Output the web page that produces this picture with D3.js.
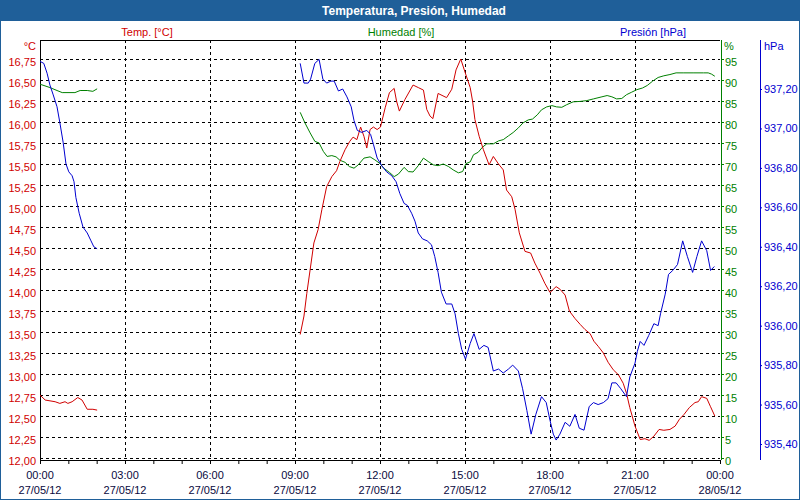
<!DOCTYPE html>
<html>
<head>
    <script src="https://d3js.org/d3.v7.min.js"></script>
    <style>
        body {
            margin: 0;
            background-color: white;
        }

        text {
            font-family: "Liberation Sans", Arial, sans-serif;
            font-size: 11px;
        }

        .grid line {
            stroke: #000;
            stroke-dasharray: 3,3;
            shape-rendering: crispEdges;
        }

        .series {
            fill: none;
            stroke-width: 1;
        }
    </style>
</head>
<body>
    <script>
        // readings of 27/05/12, [time, value]; null marks the gap in the log
        const tempData = [
            ['00:00', 12.75], ['00:11', 12.69], ['00:32', 12.67], ['00:42', 12.65], ['00:53', 12.67],
            ['00:59', 12.65], ['01:08', 12.67], ['01:20', 12.72], ['01:29', 12.69], ['01:40', 12.58],
            ['01:52', 12.58], ['02:01', 12.57], ['05:00', null],
            ['09:11', 13.47], ['09:19', 13.69], ['09:25', 13.96], ['09:32', 14.24], ['09:40', 14.56],
            ['09:49', 14.72], ['09:57', 14.96], ['10:07', 15.23], ['10:18', 15.35], ['10:28', 15.42],
            ['10:35', 15.53], ['10:46', 15.67], ['10:56', 15.77], ['11:03', 15.82], ['11:11', 15.79],
            ['11:19', 15.94], ['11:26', 15.83], ['11:32', 15.69], ['11:39', 15.91], ['11:46', 15.94],
            ['11:54', 15.91], ['12:01', 15.94], ['12:11', 16.17], ['12:20', 16.35], ['12:30', 16.40],
            ['12:35', 16.25], ['12:41', 16.13], ['12:53', 16.27], ['13:10', 16.44], ['13:21', 16.41],
            ['13:32', 16.38], ['13:39', 16.15], ['13:46', 16.07], ['13:52', 16.04], ['14:03', 16.34],
            ['14:21', 16.29], ['14:32', 16.39], ['14:41', 16.62], ['14:51', 16.75], ['15:02', 16.56],
            ['15:11', 16.41], ['15:16', 16.25], ['15:21', 16.03], ['15:30', 15.83], ['15:39', 15.67],
            ['15:51', 15.49], ['16:00', 15.59], ['16:11', 15.50], ['16:21', 15.43], ['16:28', 15.19],
            ['16:39', 15.11], ['16:46', 14.96], ['16:55', 14.68], ['17:07', 14.46], ['17:19', 14.44],
            ['17:28', 14.32], ['17:39', 14.20], ['17:49', 14.08], ['18:00', 13.97], ['18:13', 14.04],
            ['18:21', 14.01], ['18:32', 13.94], ['18:41', 13.75], ['18:53', 13.66], ['19:04', 13.59],
            ['19:14', 13.53], ['19:25', 13.48], ['19:33', 13.39], ['19:42', 13.33], ['19:53', 13.25],
            ['20:03', 13.14], ['20:14', 13.05], ['20:25', 12.99], ['20:35', 12.89], ['20:42', 12.77],
            ['20:49', 12.60], ['21:00', 12.38], ['21:11', 12.22], ['21:21', 12.23], ['21:30', 12.21],
            ['21:40', 12.26], ['21:51', 12.34], ['22:01', 12.33], ['22:14', 12.34], ['22:25', 12.38],
            ['22:34', 12.46], ['22:44', 12.52], ['22:55', 12.60], ['23:07', 12.66], ['23:14', 12.67],
            ['23:21', 12.73], ['23:32', 12.71], ['23:40', 12.61], ['23:49', 12.50]
        ];

        const humData = [
            ['00:00', 89.0], ['00:21', 88.2], ['00:36', 87.5], ['00:47', 87.0], ['01:14', 87.0],
            ['01:25', 87.5], ['01:40', 87.5], ['01:52', 87.3], ['02:01', 87.9], ['05:00', null],
            ['09:11', 82.3], ['09:21', 79.8], ['09:32', 77.4], ['09:42', 75.4], ['09:51', 75.0],
            ['10:00', 73.0], ['10:08', 71.8], ['10:18', 72.0], ['10:27', 71.7], ['10:35', 70.9],
            ['10:46', 70.4], ['10:55', 69.4], ['11:05', 69.0], ['11:14', 69.8], ['11:26', 71.4],
            ['11:39', 71.7], ['11:49', 71.0], ['12:00', 70.1], ['12:08', 69.0], ['12:20', 68.0],
            ['12:30', 67.0], ['12:39', 67.6], ['12:51', 69.2], ['13:00', 68.2], ['13:10', 68.1],
            ['13:21', 69.6], ['13:32', 71.4], ['13:42', 70.6], ['13:53', 69.8], ['14:03', 69.6],
            ['14:14', 70.0], ['14:25', 69.4], ['14:35', 68.6], ['14:46', 67.9], ['14:55', 68.2],
            ['15:02', 70.1], ['15:11', 70.5], ['15:18', 72.2], ['15:28', 72.8], ['15:37', 74.0],
            ['15:46', 74.8], ['16:00', 74.8], ['16:11', 75.5], ['16:21', 75.8], ['16:32', 76.7],
            ['16:42', 77.5], ['16:53', 78.6], ['17:03', 79.8], ['17:14', 80.5], ['17:23', 80.7],
            ['17:33', 81.7], ['17:42', 82.9], ['17:53', 83.6], ['18:04', 83.9], ['18:14', 83.6],
            ['18:25', 83.5], ['18:35', 84.1], ['18:49', 84.8], ['19:04', 84.9], ['19:18', 85.1],
            ['19:32', 85.5], ['19:50', 86.0], ['20:01', 86.3], ['20:11', 86.0], ['20:21', 85.5],
            ['20:32', 85.6], ['20:42', 86.5], ['20:53', 87.1], ['21:04', 87.7], ['21:16', 88.1],
            ['21:26', 88.7], ['21:37', 89.7], ['21:49', 90.6], ['22:01', 91.0], ['22:14', 91.3],
            ['22:27', 91.7], ['22:42', 91.7], ['23:03', 91.7], ['23:25', 91.7], ['23:35', 91.7],
            ['23:42', 91.4], ['23:49', 90.9]
        ];

        const presData = [
            ['00:00', 937.34], ['00:08', 937.33], ['00:15', 937.28], ['00:21', 937.22], ['00:28', 937.17],
            ['00:36', 937.11], ['00:42', 937.03], ['00:49', 936.93], ['00:55', 936.82], ['01:01', 936.78],
            ['01:08', 936.76], ['01:12', 936.73], ['01:16', 936.65], ['01:23', 936.57], ['01:31', 936.50],
            ['01:40', 936.47], ['01:48', 936.43], ['01:54', 936.40], ['02:01', 936.39], ['05:00', null],
            ['09:11', 937.33], ['09:19', 937.23], ['09:28', 937.23], ['09:33', 937.25], ['09:42', 937.33],
            ['09:51', 937.35], ['09:59', 937.25], ['10:07', 937.23], ['10:16', 937.24], ['10:23', 937.24],
            ['10:32', 937.19], ['10:41', 937.20], ['10:50', 937.16], ['10:59', 937.11], ['11:05', 937.04],
            ['11:12', 936.99], ['11:21', 936.98], ['11:32', 936.99], ['11:40', 936.97], ['11:46', 936.92],
            ['11:54', 936.85], ['12:04', 936.81], ['12:14', 936.78], ['12:25', 936.76], ['12:34', 936.73],
            ['12:42', 936.67], ['12:51', 936.62], ['12:58', 936.61], ['13:07', 936.57], ['13:14', 936.53],
            ['13:21', 936.47], ['13:30', 936.44], ['13:40', 936.43], ['13:49', 936.41], ['13:56', 936.35],
            ['14:03', 936.27], ['14:10', 936.17], ['14:20', 936.11], ['14:32', 936.11], ['14:39', 936.06],
            ['14:46', 935.96], ['14:53', 935.88], ['15:01', 935.83], ['15:11', 935.91], ['15:19', 935.96],
            ['15:30', 935.88], ['15:40', 935.90], ['15:49', 935.89], ['16:00', 935.77], ['16:11', 935.78],
            ['16:21', 935.76], ['16:32', 935.78], ['16:41', 935.80], ['16:53', 935.77], ['17:02', 935.68],
            ['17:11', 935.57], ['17:20', 935.45], ['17:30', 935.55], ['17:42', 935.64], ['17:52', 935.61],
            ['18:00', 935.52], ['18:07', 935.45], ['18:13', 935.42], ['18:21', 935.45], ['18:32', 935.51],
            ['18:42', 935.49], ['18:53', 935.55], ['19:02', 935.48], ['19:12', 935.47], ['19:23', 935.59],
            ['19:32', 935.61], ['19:42', 935.60], ['19:53', 935.61], ['20:03', 935.63], ['20:11', 935.71],
            ['20:20', 935.71], ['20:30', 935.68], ['20:42', 935.64], ['20:49', 935.74], ['21:00', 935.81],
            ['21:05', 935.87], ['21:11', 935.92], ['21:19', 935.90], ['21:29', 935.95], ['21:40', 936.01],
            ['21:49', 936.00], ['21:54', 936.06], ['22:04', 936.16], ['22:11', 936.26], ['22:20', 936.28],
            ['22:30', 936.31], ['22:41', 936.43], ['22:51', 936.35], ['23:02', 936.27], ['23:11', 936.35],
            ['23:21', 936.43], ['23:32', 936.38], ['23:40', 936.28], ['23:48', 936.30]
        ];

        const tempTicks = d3.range(0, 20).map(i => 12 + i * 0.25);
        const humTicks = d3.range(0, 20).map(i => i * 5);
        const presTicks = [935.4, 935.6, 935.8, 936.0, 936.2, 936.4, 936.6, 936.8, 937.0, 937.2];

        const titleText = 'Temperatura, Presión, Humedad';
        const dayStart = '27/05/12 00:00', dayEnd = '28/05/12 00:00';

        const colTemp = '#d00000', colHum = '#008000', colPres = '#0000d0';
        const colBar = '#1f5f99';

        const width = 800, height = 500;
        const pLeft = 40, pRight = 720, pTop = 40, pBottom = 460;

        const parseFull = d3.timeParse('%d/%m/%y %H:%M');
        const at = t => parseFull('27/05/12 ' + t);
        const comma = f => d => d3.format(f)(d).replace('.', ',');

        const x = d3.scaleTime()
            .domain([parseFull(dayStart), parseFull(dayEnd)])
            .range([pLeft, pRight]);
        const yT = d3.scaleLinear().domain([12, 17]).range([458, 38]);
        const yH = d3.scaleLinear().domain([0, 100]).range([458, 38]);
        const yP = d3.scaleLinear().domain([935.4, 937.2]).range([444, 89]);

        const svg = d3.select('body').append('svg')
            .attr('width', width)
            .attr('height', height);

        svg.append('rect')
            .attr('x', 0.5).attr('y', 0.5)
            .attr('width', width - 1).attr('height', height - 1)
            .attr('fill', 'white')
            .attr('stroke', colBar);

        // title bar
        svg.append('rect')
            .attr('x', 0).attr('y', 0)
            .attr('width', width).attr('height', 21)
            .attr('fill', colBar);
        svg.append('text')
            .attr('x', 414).attr('y', 15)
            .attr('text-anchor', 'middle')
            .attr('fill', 'white')
            .style('font-weight', 'bold')
            .style('font-size', '12px')
            .text(titleText);

        // series names
        const names = [
            { t: 'Temp. [°C]', x: 147, c: colTemp },
            { t: 'Humedad [%]', x: 401, c: colHum },
            { t: 'Presión [hPa]', x: 653, c: colPres }
        ];
        svg.selectAll('.name')
            .data(names)
            .enter().append('text')
            .attr('class', 'name')
            .attr('x', d => d.x).attr('y', 36)
            .attr('text-anchor', 'middle')
            .attr('fill', d => d.c)
            .text(d => d.t);

        // grid
        const grid = svg.append('g').attr('class', 'grid');
        grid.selectAll('.hg')
            .data(tempTicks)
            .enter().append('line')
            .attr('x1', pLeft).attr('x2', pRight)
            .attr('y1', d => yT(d)).attr('y2', d => yT(d));
        grid.selectAll('.vg')
            .data(x.ticks(d3.timeHour.every(3)).slice(1, -1))
            .enter().append('line')
            .attr('x1', d => x(d)).attr('x2', d => x(d))
            .attr('y1', pTop).attr('y2', pBottom);

        // frame
        svg.append('path')
            .attr('d', `M${pRight},${pTop}H${pLeft}V${pBottom}H${pRight}`)
            .attr('fill', 'none')
            .attr('stroke', '#000')
            .attr('shape-rendering', 'crispEdges');

        // left axis (temperature)
        const axT = svg.append('g')
            .attr('transform', `translate(${pLeft},0)`)
            .call(d3.axisLeft(yT).tickValues(tempTicks).tickSize(0).tickPadding(4).tickFormat(comma('.2f')));
        axT.select('.domain').remove();
        axT.selectAll('text').attr('fill', colTemp).attr('y', 3).style('font-size', '11px').style('font-family', null);
        svg.append('text')
            .attr('x', 36).attr('y', 50)
            .attr('text-anchor', 'end')
            .attr('fill', colTemp)
            .text('°C');

        // right axis (humidity)
        const axH = svg.append('g')
            .attr('transform', `translate(${pRight + 1},0)`)
            .call(d3.axisRight(yH).tickValues(humTicks).tickSize(3).tickPadding(1).tickFormat(d3.format('d')));
        axH.select('.domain').attr('d', `M0.5,${pTop}V${pBottom}`).attr('stroke', colHum);
        axH.selectAll('line').attr('stroke', colHum);
        axH.selectAll('text').attr('fill', colHum).attr('y', 3).style('font-size', '11px').style('font-family', null);
        svg.append('text')
            .attr('x', 724).attr('y', 50)
            .attr('fill', colHum)
            .text('%');

        // far right axis (pressure)
        const axP = svg.append('g')
            .attr('transform', `translate(760,0)`)
            .call(d3.axisRight(yP).tickValues(presTicks).tickSize(2).tickPadding(2).tickFormat(comma('.2f')));
        axP.select('.domain').attr('d', `M0.5,${pTop}V${pBottom}`).attr('stroke', colPres);
        axP.selectAll('line').attr('stroke', colPres);
        axP.selectAll('text').attr('fill', colPres).style('font-size', '11px').style('font-family', null);
        svg.append('text')
            .attr('x', 764).attr('y', 50)
            .attr('fill', colPres)
            .text('hPa');

        // bottom axis
        const axX = svg.append('g')
            .attr('transform', `translate(0,${pBottom})`)
            .call(d3.axisBottom(x).ticks(d3.timeHour.every(1)).tickSize(4).tickFormat(''));
        axX.select('.domain').attr('d', `M${pLeft},0.5H${pRight}`);

        const xLab = svg.append('g')
            .selectAll('text')
            .data(x.ticks(d3.timeHour.every(3)))
            .enter().append('text')
            .attr('text-anchor', 'middle')
            .attr('fill', '#0a0a40');
        xLab.append('tspan')
            .attr('x', d => x(d)).attr('y', 479)
            .text(d3.timeFormat('%H:%M'));
        xLab.append('tspan')
            .attr('x', d => x(d)).attr('y', 494)
            .text(d3.timeFormat('%d/%m/%y'));

        // series
        const series = [
            { data: humData, y: yH, c: colHum },
            { data: tempData, y: yT, c: colTemp },
            { data: presData, y: yP, c: colPres }
        ];
        series.forEach(s => {
            const line = d3.line()
                .defined(d => d[1] != null)
                .x(d => x(at(d[0])))
                .y(d => s.y(d[1]));
            svg.append('path')
                .attr('class', 'series')
                .attr('stroke', s.c)
                .attr('d', line(s.data));
        });
    </script>
</body>
</html>
